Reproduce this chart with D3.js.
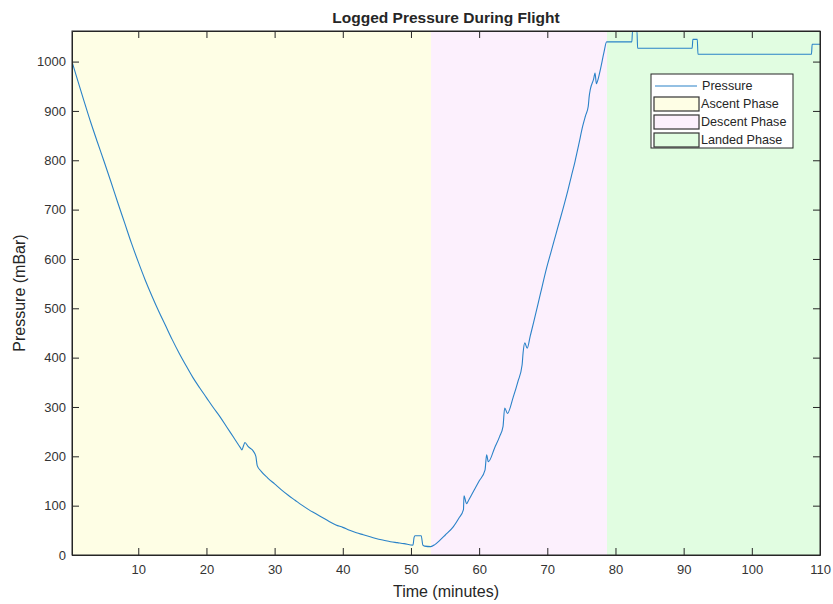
<!DOCTYPE html>
<html>
<head>
<meta charset="utf-8">
<script src="https://cdn.jsdelivr.net/npm/d3@7/dist/d3.min.js"></script>
<style>
body { margin: 0; background: #fff; }
text { font-family: "Liberation Sans", Arial, sans-serif; fill: #262626; }
</style>
</head>
<body>
<div id="chart"></div>
<script>
// logged data (minutes, mBar)
var timeMin = [0.28, 1, 2, 3, 4, 5, 6, 7, 8, 9, 10, 11, 12, 13, 14, 15, 16, 17, 18, 19, 20,
    21, 22, 23, 24, 25, 25.2, 25.45, 25.65, 26.1, 26.9, 27.25, 27.45, 28, 29, 30, 31, 32, 33,
    34, 35, 36, 37, 38, 39, 40, 41, 42, 43, 44, 45, 46, 47, 48, 49, 50.3, 50.45, 50.6, 51.5,
    51.75, 52, 52.9,
    53.5, 54.26, 55, 56.2, 57, 57.7, 57.78, 58.15, 58.5, 59.4, 60, 60.86, 61.1, 61.35, 62.3,
    63, 63.5, 63.75, 64.15, 65, 65.7, 66.3, 66.45, 66.7, 67.05, 67.5, 68, 68.5, 69, 69.9, 70.5,
    71, 71.5, 72.35, 73, 73.5, 74.07, 74.6, 75.19, 75.6, 76, 76.15, 76.3, 76.8, 77, 77.2, 77.4,
    77.83, 78.3, 78.7,
    79, 82.4, 82.5, 83.15, 83.25, 91.25, 91.35, 92, 92.1, 108.75, 108.85, 110];
var pressure = [1000, 967, 922, 878, 837, 797, 756, 714, 673, 632, 594, 558, 525, 494, 465, 436,
    409, 384, 360, 339, 319, 299, 280, 259, 238, 217, 213, 222, 228, 220, 210, 200, 181, 170,
    156, 144, 132, 121, 111, 101, 92, 84, 76, 68, 61, 56, 50, 45, 41, 37, 33, 30, 27, 25, 23,
    20, 35, 39, 39, 20, 18, 17,
    21, 30, 40, 57, 74, 92, 120, 104, 112, 135, 150, 172, 203, 189, 218, 240, 260, 298, 287,
    320, 352, 385, 410, 430, 419, 444, 472, 501, 530, 582, 612, 637, 662, 704, 738, 766, 798,
    831, 869, 890, 909, 930, 943, 965, 977, 955, 962, 987, 1018, 1040,
    1040, 1040, 1062, 1062, 1027, 1027, 1045, 1045, 1015, 1015, 1035, 1035];

var phaseNames = ["Ascent Phase", "Descent Phase", "Landed Phase"];
var phaseStart = [0.28, 52.94, 78.76];
var phaseEnd = [52.94, 78.76, 110];
var phaseColors = ["#fefee5", "#fcf0fd", "#e1fde1"];

var xTicks = [10, 20, 30, 40, 50, 60, 70, 80, 90, 100, 110];
var yTicks = [0, 100, 200, 300, 400, 500, 600, 700, 800, 900, 1000];

var data = timeMin.map(function(t, i){ return {x: t, y: pressure[i]}; });

var W = 833, H = 604;
var margin = {top: 31, right: 13, bottom: 49, left: 72},
    width = W - margin.left - margin.right,
    height = H - margin.top - margin.bottom;

var x = d3.scaleLinear().domain([0.28, 110]).range([0, width]);
var y = d3.scaleLinear().domain([0, 1062]).range([height, 0]);

var line = d3.line()
    .curve(d3.curveMonotoneX)
    .x(function(d){ return x(d.x); })
    .y(function(d){ return y(d.y); });

var svg = d3.select("#chart").append("svg")
    .attr("width", W)
    .attr("height", H);

var g = svg.append("g")
    .attr("transform", "translate(" + margin.left + "," + margin.top + ")");

g.append("clipPath").attr("id", "clip")
    .append("rect").attr("width", width).attr("height", height);

// phase backgrounds
g.selectAll(".phase")
    .data(phaseNames)
    .enter().append("rect")
    .attr("x", function(d, i){ return x(phaseStart[i]); })
    .attr("y", 0)
    .attr("width", function(d, i){ return x(phaseEnd[i]) - x(phaseStart[i]); })
    .attr("height", height)
    .style("fill", function(d, i){ return phaseColors[i]; });

// pressure line
g.append("path")
    .datum(data)
    .attr("d", line)
    .attr("clip-path", "url(#clip)")
    .style("fill", "none")
    .style("stroke", "#2a82c8")
    .style("stroke-width", "1.1px")
    .style("stroke-linejoin", "round");

// axes, ticks inside, box on
var tk = 7;
g.append("g")
    .attr("transform", "translate(0," + height + ")")
    .call(d3.axisBottom(x).tickValues(xTicks).tickSizeInner(-tk).tickSizeOuter(0).tickPadding(10));
g.append("g")
    .call(d3.axisTop(x).tickValues(xTicks).tickSizeInner(-tk).tickSizeOuter(0).tickFormat(""));
g.append("g")
    .call(d3.axisLeft(y).tickValues(yTicks).tickSizeInner(-tk).tickSizeOuter(0).tickPadding(6)
        .tickFormat(d3.format("d")));
g.append("g")
    .attr("transform", "translate(" + width + ",0)")
    .call(d3.axisRight(y).tickValues(yTicks).tickSizeInner(-tk).tickSizeOuter(0).tickFormat(""));

g.selectAll(".domain, .tick line").style("stroke", "#262626");
g.selectAll(".tick text")
    .style("font-size", "13px")
    .style("font-family", "'Liberation Sans', Arial, sans-serif")
    .style("fill", "#333");

g.append("rect")
    .attr("width", width).attr("height", height)
    .style("fill", "none").style("stroke", "#262626").style("stroke-width", "1px");

// titles
svg.append("text")
    .attr("x", margin.left + width / 2).attr("y", 23)
    .attr("text-anchor", "middle")
    .style("font-size", "15.5px").style("font-weight", "bold")
    .text("Logged Pressure During Flight");
svg.append("text")
    .attr("x", margin.left + width / 2).attr("y", 597)
    .attr("text-anchor", "middle")
    .style("font-size", "16px")
    .text("Time (minutes)");
svg.append("text")
    .attr("transform", "translate(25," + (margin.top + height / 2) + ") rotate(-90)")
    .attr("text-anchor", "middle")
    .style("font-size", "16px")
    .text("Pressure (mBar)");

// legend
var lg = svg.append("g").attr("transform", "translate(651,74)");
lg.append("rect")
    .attr("width", 142).attr("height", 74)
    .style("fill", "#fff").style("stroke", "#262626").style("stroke-width", "1px");
lg.append("line")
    .attr("x1", 4).attr("x2", 46).attr("y1", 12).attr("y2", 12)
    .style("stroke", "#2a82c8").style("stroke-width", "1.1px");
lg.append("text")
    .attr("x", 51).attr("y", 12).attr("dy", "0.35em")
    .style("font-size", "12.6px")
    .text("Pressure");
var items = lg.selectAll(".item")
    .data(phaseNames)
    .enter().append("g")
    .attr("transform", function(d, i){ return "translate(0," + (30 + i * 18) + ")"; });
items.append("rect")
    .attr("x", 3).attr("y", -7).attr("width", 45).attr("height", 14)
    .style("fill", function(d, i){ return phaseColors[i]; })
    .style("stroke", "#333").style("stroke-width", "1.2px");
items.append("text")
    .attr("x", 50).attr("dy", "0.35em")
    .style("font-size", "12.6px")
    .text(function(d){ return d; });
</script>
</body>
</html>
